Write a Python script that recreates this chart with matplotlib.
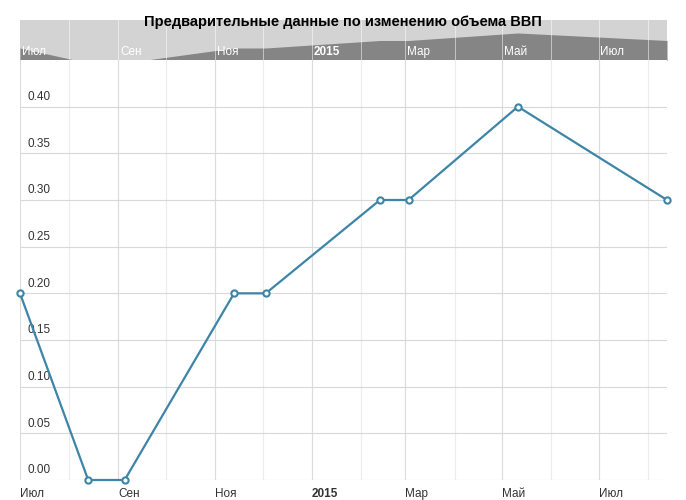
import numpy as np
import matplotlib
matplotlib.use('Agg')
import matplotlib.pyplot as plt
import matplotlib.dates as mdates

dates = np.array(['2014-07-01', '2014-08-13', '2014-09-05', '2014-11-13',
                  '2014-12-03', '2015-02-13', '2015-03-03', '2015-05-11',
                  '2015-08-13'], dtype='datetime64[D]')
values = [0.20, 0.00, 0.00, 0.20, 0.20, 0.30, 0.30, 0.40, 0.30]
month_ticks = np.array(['2014-07-01', '2014-09-01', '2014-11-01', '2015-01-01',
                        '2015-03-01', '2015-05-01', '2015-07-01'], dtype='datetime64[D]')
month_labels = ['Июл', 'Сен', 'Ноя', '2015', 'Мар', 'Май', 'Июл']
minor_ticks = np.arange(np.datetime64('2014-08-01'), np.datetime64('2015-09-01'),
                        np.timedelta64(1, 'D'))
yticks = [0.0, 0.05, 0.10, 0.15, 0.20, 0.25, 0.30, 0.35, 0.40]

plt.rcParams['font.family'] = ['Liberation Sans', 'DejaVu Sans']
W, H = 686, 500
fig = plt.figure(figsize=(W / 100, H / 100), dpi=100)
blue = '#3d85a8'
xl = (mdates.date2num(dates[0]), mdates.date2num(dates[-1]))
mons = [d for d in minor_ticks if str(d).endswith('-01')]

# navigator band
nav = fig.add_axes([20 / W, 1 - 60 / H, 647 / W, 40 / H])
nav.set_facecolor('#d3d3d3')
nav.fill_between(dates, values, 0, color='#858585', lw=0)
nav.set_xlim(xl)
nav.set_ylim(0.04, 0.573)
for d in mons:
    nav.axvline(d, color='white', lw=0.6, alpha=0.6)
for d, lab in zip(month_ticks, month_labels):
    nav.text(mdates.date2num(d) + 1, 0.07, lab, color='white', fontsize=8.5,
             fontweight='bold' if lab == '2015' else 'normal', va='bottom')
nav.set_xticks([]); nav.set_yticks([])
for s in nav.spines.values():
    s.set_visible(False)
fig.text(343 / W, 1 - 22 / H, 'Предварительные данные по изменению объема ВВП',
         ha='center', va='center', fontsize=10.5, fontweight='bold', zorder=10)

# main plot
ax = fig.add_axes([20 / W, 1 - 480 / H, 647 / W, 420 / H])
ax.plot(dates, values, color=blue, lw=1.6, marker='o', ms=4.5,
        mfc='white', mec=blue, mew=1.5, clip_on=False, zorder=5)
ax.set_xlim(xl)
ax.set_ylim(0, 0.45)
for d in mons:
    ax.axvline(d, color='#ececec', lw=0.8, zorder=0)
for d in month_ticks:
    ax.axvline(d, color='#dcdcdc', lw=0.8, zorder=0)
for y in yticks:
    ax.axhline(y, color='#d8d8d8', lw=0.8, zorder=0)
    ax.text(xl[0] + 5, y + 0.004, '%.2f' % y, fontsize=8.5, color='#333333', va='bottom')
ax.set_yticks([])
ax.set_xticks(mdates.date2num(month_ticks))
ax.set_xticklabels(month_labels, fontsize=8.5, color='#333333', ha='left')
for t in ax.get_xticklabels():
    if t.get_text() == '2015':
        t.set_fontweight('bold')
ax.tick_params(axis='x', length=0, pad=6)
for s in ax.spines.values():
    s.set_visible(False)

fig.savefig('out.png', dpi=100)
